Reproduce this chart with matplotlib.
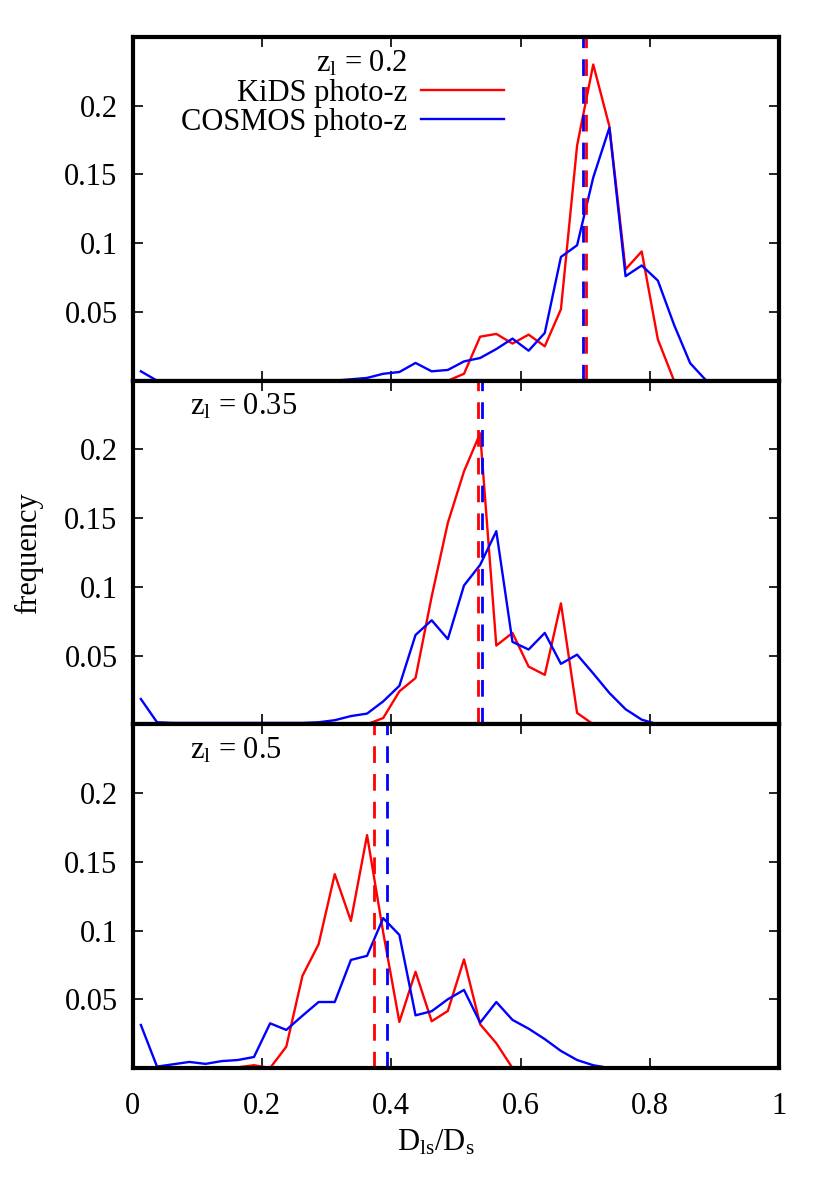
import numpy as np
import matplotlib
matplotlib.use('Agg')
import matplotlib.pyplot as plt

plt.rcParams['font.family'] = 'Liberation Serif'
plt.rcParams['mathtext.fontset'] = 'custom'
plt.rcParams['mathtext.rm'] = 'Liberation Serif'
plt.rcParams['mathtext.it'] = 'Liberation Serif'

# bin centres of D_ls/D_s
dls = [0.0125, 0.0375, 0.0625, 0.0875, 0.1125, 0.1375, 0.1625, 0.1875,
       0.2125, 0.2375, 0.2625, 0.2875, 0.3125, 0.3375, 0.3625, 0.3875,
       0.4125, 0.4375, 0.4625, 0.4875, 0.5125, 0.5375, 0.5625, 0.5875,
       0.6125, 0.6375, 0.6625, 0.6875, 0.7125, 0.7375, 0.7625, 0.7875,
       0.8125, 0.8375, 0.8625, 0.8875, 0.9125, 0.9375, 0.9625, 0.9875]

zl = ['0.2', '0.35', '0.5']

# z_l = 0.2
kids_02 = [0, 0, 0, 0, 0, 0, 0, 0, 0, 0, 0, 0, 0, 0, 0, 0, 0, 0, 0, 0,
           0.005, 0.032, 0.034, 0.027, 0.0335, 0.025, 0.052, 0.171, 0.230, 0.185,
           0.081, 0.094, 0.030, 0, 0, 0, 0, 0, 0, 0]
cosmos_02 = [0.0068, 0, 0, 0, 0, 0, 0, 0, 0, 0, 0, 0, 0, 0.001, 0.002, 0.005,
             0.0063, 0.0129, 0.0068, 0.0078, 0.014, 0.0165, 0.023, 0.0306, 0.0218, 0.0347,
             0.090, 0.0985, 0.1478, 0.184, 0.076, 0.0838, 0.0728, 0.0407, 0.0127, 0,
             0, 0, 0, 0]

# z_l = 0.35
kids_035 = [0, 0, 0, 0, 0, 0, 0, 0, 0, 0, 0, 0, 0, 0, 0, 0.0046,
            0.024, 0.0337, 0.093, 0.1466, 0.184, 0.2117, 0.0573, 0.0665, 0.042, 0.036,
            0.088, 0.0083, 0, 0, 0, 0, 0, 0, 0, 0, 0, 0, 0, 0]
cosmos_035 = [0.0184, 0.0015, 0.001, 0.001, 0.001, 0.001, 0.001, 0.001, 0.001, 0.001,
              0.001, 0.0015, 0.003, 0.006, 0.0078, 0.0167, 0.028, 0.065, 0.0757, 0.062,
              0.101, 0.116, 0.1405, 0.060, 0.0544, 0.0665, 0.044, 0.0507, 0.037, 0.0228,
              0.011, 0.0034, 0, 0, 0, 0, 0, 0, 0, 0]

# z_l = 0.5
kids_05 = [0, 0, 0, 0, 0, 0, 0.0005, 0.002, 0, 0.0155, 0.067, 0.090, 0.141, 0.107,
           0.1694, 0.0985, 0.0335, 0.070, 0.034, 0.0415, 0.079, 0.0318, 0.018, 0,
           0, 0, 0, 0, 0, 0, 0, 0, 0, 0, 0, 0, 0, 0, 0, 0]
cosmos_05 = [0.0313, 0.001, 0.0027, 0.0044, 0.003, 0.005, 0.0058, 0.008, 0.0325, 0.0277,
             0.038, 0.048, 0.048, 0.0786, 0.0816, 0.109, 0.0968, 0.0383, 0.0413, 0.050,
             0.0568, 0.033, 0.048, 0.035, 0.0286, 0.021, 0.0124, 0.0058, 0.002, 0,
             0, 0, 0, 0, 0, 0, 0, 0, 0, 0]

kids = [kids_02, kids_035, kids_05]
cosmos = [cosmos_02, cosmos_035, cosmos_05]

# mean D_ls/D_s (dashed lines)
kids_mean = [0.701, 0.534, 0.374]
cosmos_mean = [0.697, 0.540, 0.394]

yticks = [0.05, 0.1, 0.15, 0.2]
ylabels = ['0.05', '0.1', '0.15', '0.2']
xticks = [0, 0.2, 0.4, 0.6, 0.8, 1]
xlabels = ['0', '0.2', '0.4', '0.6', '0.8', '1']

fs = 22
fig, axes = plt.subplots(3, 1, figsize=(8.3, 11.86), dpi=100, sharex=True)
fig.subplots_adjust(left=0.160, right=0.9386, bottom=0.0995, top=0.9688, hspace=0)

for i, ax in enumerate(axes):
    ax.plot(dls, kids[i], color='#ff0000', lw=1.7, label='KiDS photo-z')
    ax.plot(dls, cosmos[i], color='#0000ff', lw=1.7, label='COSMOS photo-z')
    ax.axvline(kids_mean[i], color='#ff0000', lw=2, ls=(0, (6, 4)))
    ax.axvline(cosmos_mean[i], color='#0000ff', lw=2, ls=(0, (6, 4)))
    ax.set_xlim(0, 1)
    ax.set_ylim(0, 0.25)
    ax.set_yticks(yticks)
    ax.set_yticklabels(ylabels)
    ax.set_xticks(xticks)
    ax.set_xticklabels(xlabels)
    ax.tick_params(direction='in', length=7, width=1.2, top=True, right=True,
                   labelsize=fs)
    ax.tick_params(axis='y', pad=11)
    ax.tick_params(axis='x', pad=17)
    for s in ax.spines.values():
        s.set_linewidth(3)
        s.set_zorder(5)
    if i == 0:
        # key title as an entry without a handle, right-aligned with the labels
        ax.plot([], [], ls='none', label=r'$\mathrm{z_l}$ = ' + zl[i])
        h, l = ax.get_legend_handles_labels()
        order = [2, 0, 1]
        ax.legend([h[k] for k in order], [l[k] for k in order],
                  loc='upper right', bbox_to_anchor=(0.574, 0.965), frameon=False,
                  markerfirst=False, fontsize=fs, handlelength=2.7,
                  handletextpad=0.45, labelspacing=0.0, borderpad=0, borderaxespad=0)
    else:
        ax.text(0.088, 0.924, r'$\mathrm{z_l}$ = ' + zl[i], transform=ax.transAxes,
                ha='left', va='center', fontsize=fs)

axes[2].set_xlabel(r'D$_{\mathrm{ls}}$/D$_{\mathrm{s}}$', fontsize=fs)
axes[2].xaxis.set_label_coords(0.469, -0.175)
fig.text(0.034, 0.534, 'frequency', rotation=90, ha='center', va='center', fontsize=fs)

plt.savefig('out.png', dpi=100)
